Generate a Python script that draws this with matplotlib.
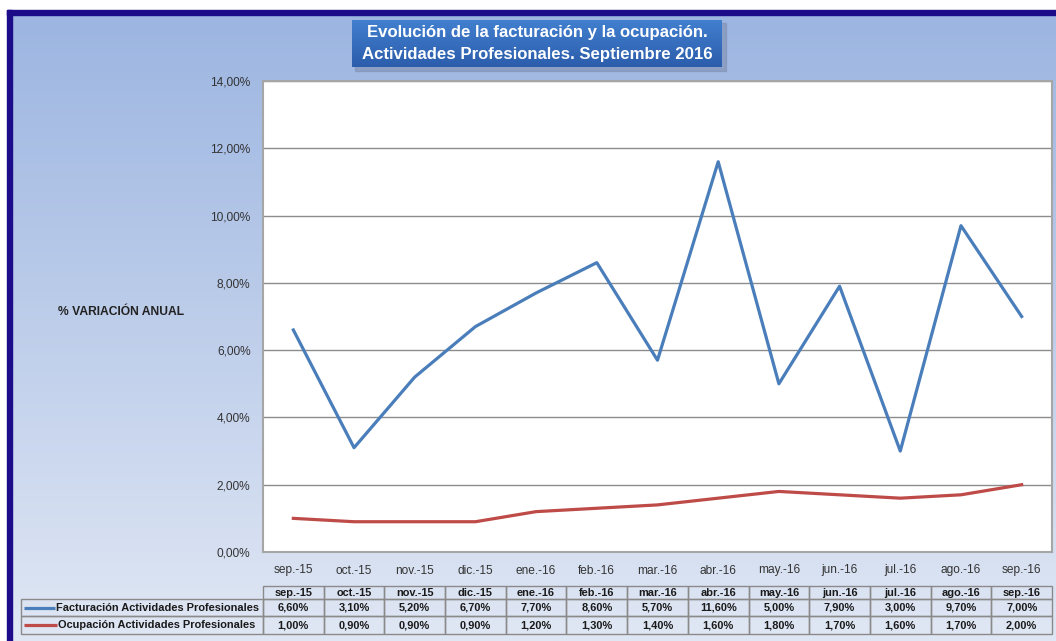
import numpy as np
import matplotlib
matplotlib.use("Agg")
import matplotlib.pyplot as plt
from matplotlib.patches import Rectangle

plt.rcParams['font.family'] = ['Liberation Sans', 'DejaVu Sans']

# data
meses = ["sep.-15", "oct.-15", "nov.-15", "dic.-15", "ene.-16", "feb.-16", "mar.-16",
         "abr.-16", "may.-16", "jun.-16", "jul.-16", "ago.-16", "sep.-16"]
facturacion = [6.60, 3.10, 5.20, 6.70, 7.70, 8.60, 5.70, 11.60, 5.00, 7.90, 3.00, 9.70, 7.00]
ocupacion = [1.00, 0.90, 0.90, 0.90, 1.20, 1.30, 1.40, 1.60, 1.80, 1.70, 1.60, 1.70, 2.00]
series_names = ["Facturación Actividades Profesionales", "Ocupación Actividades Profesionales"]
colors = ["#4a7ebb", "#be4b48"]
yticks = [0, 2, 4, 6, 8, 10, 12, 14]

W, H = 1056, 641
fig = plt.figure(figsize=(W / 100, H / 100), dpi=100)
fig.patch.set_facecolor("white")

# background layer in pixel coordinates
bg = fig.add_axes([0, 0, 1, 1])
bg.set_xlim(0, W)
bg.set_ylim(H, 0)
bg.axis("off")

top_c = np.array([0x9c, 0xb5, 0xe1]) / 255
bot_c = np.array([0xe0, 0xe7, 0xf4]) / 255
t = np.linspace(0, 1, 256)[:, None]
grad = top_c[None, :] * (1 - t) + bot_c[None, :] * t
bg.imshow(grad[:, None, :], extent=[12, W, H, 15], aspect="auto", zorder=0)

# dark frame (top and left)
bg.add_patch(Rectangle((7, 10), W - 7, 5, color="#1d0c8a", zorder=1))
bg.add_patch(Rectangle((7, 10), 5, H - 10, color="#1d0c8a", zorder=1))

# title box
bg.add_patch(Rectangle((355, 23), 371, 48, color="#7f8fb0", alpha=0.6, zorder=2))
tg = np.linspace(0, 1, 64)[:, None]
tc1 = np.array([0x42, 0x7f, 0xcf]) / 255
tc2 = np.array([0x2b, 0x5d, 0xab]) / 255
tgrad = tc1[None, :] * (1 - tg) + tc2[None, :] * tg
bg.imshow(tgrad[:, None, :], extent=[352, 722, 67, 20], aspect="auto", zorder=3)
bg.text(537, 33, "Evolución de la facturación y la ocupación.", color="white",
        fontsize=12.1, fontweight="bold", ha="center", va="center", zorder=4)
bg.text(537, 54, "Actividades Profesionales. Septiembre 2016", color="white",
        fontsize=12.1, fontweight="bold", ha="center", va="center", zorder=4)

# y label
bg.text(121, 312, "% VARIACIÓN ANUAL", fontsize=8.7, fontweight="bold",
        color="#222222", ha="center", va="center")

# plot area
px0, px1, py0, py1 = 263, 1052, 81, 552
ax = fig.add_axes([px0 / W, 1 - py1 / H, (px1 - px0) / W, (py1 - py0) / H])
ax.set_facecolor("white")
x = np.arange(len(meses))
ax.plot(x, facturacion, color=colors[0], lw=2.3, zorder=3)
ax.plot(x, ocupacion, color=colors[1], lw=2.3, zorder=3)
ax.set_xlim(-0.5, len(meses) - 0.5)
ax.set_ylim(0, 14)
ax.set_yticks(yticks)
ax.set_yticklabels([f"{v:.2f}%".replace(".", ",") for v in yticks])
ax.set_xticks(x)
ax.set_xticklabels(meses)
ax.tick_params(axis="both", length=0, labelsize=8.6, labelcolor="#333333")
ax.tick_params(axis="y", pad=9)
ax.tick_params(axis="x", pad=9)
ax.grid(axis="y", color="#8c8c8c", lw=1)
ax.set_axisbelow(True)
for s in ax.spines.values():
    s.set_color("#a6a6a6")
    s.set_linewidth(1.5)

# data table under the plot
ncol = len(meses)
cw = (px1 - px0) / ncol
ty = [586, 599, 616, 634]
lx0 = 21
lc = "#8a8a8a"
fs = 7.9
for i, m in enumerate(meses):
    cx = px0 + i * cw
    bg.add_patch(Rectangle((cx, ty[0]), cw, ty[1] - ty[0], fill=False, ec=lc, lw=1, zorder=2))
    bg.text(cx + cw / 2, (ty[0] + ty[1]) / 2 + 0.5, m, fontsize=fs, fontweight="bold",
            ha="center", va="center", color="#1a1a1a")
rows = [facturacion, ocupacion]
key_end = [55, 57]
for r, vals in enumerate(rows):
    y0, y1 = ty[r + 1], ty[r + 2]
    bg.add_patch(Rectangle((lx0, y0), px0 - lx0, y1 - y0, fill=False, ec=lc, lw=1, zorder=2))
    ym = (y0 + y1) / 2
    bg.plot([24, key_end[r]], [ym, ym], color=colors[r], lw=2.3, solid_capstyle="butt", zorder=3)
    bg.text(key_end[r] + 0.5, ym + 0.5, series_names[r], fontsize=fs, fontweight="bold",
            ha="left", va="center", color="#1a1a1a")
    for i, v in enumerate(vals):
        cx = px0 + i * cw
        bg.add_patch(Rectangle((cx, y0), cw, y1 - y0, fill=False, ec=lc, lw=1, zorder=2))
        bg.text(cx + cw / 2, ym + 0.5, f"{v:.2f}%".replace(".", ","), fontsize=fs,
                fontweight="bold", ha="center", va="center", color="#1a1a1a")

fig.savefig("out.png", dpi=100)
